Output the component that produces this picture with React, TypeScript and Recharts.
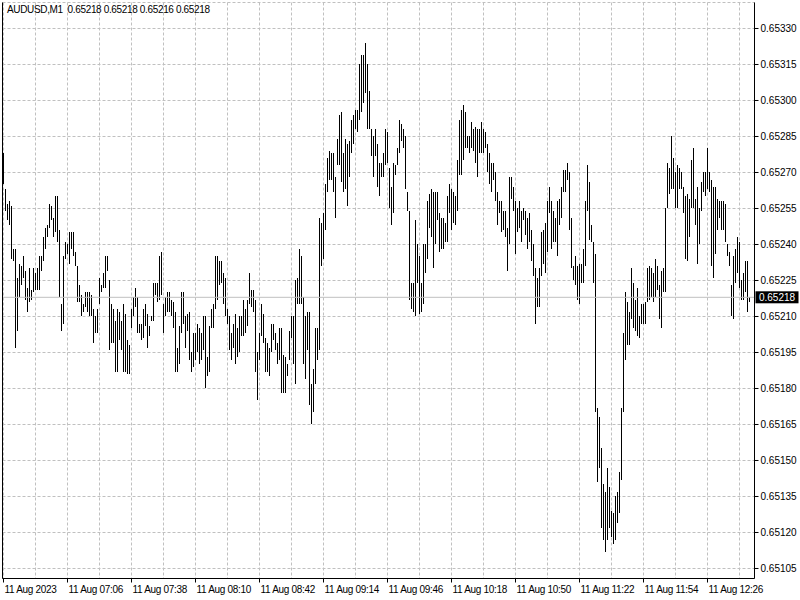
import { ComposedChart, Bar, XAxis, YAxis, CartesianGrid, ReferenceLine } from 'recharts';

const SYMBOL = 'AUDUSD,M1';
const LAST_OHLC = ['0.65218', '0.65218', '0.65216', '0.65218'];
const LAST_PRICE = 0.65218;

// prices are kept in points above 0.65000 (1 point = 0.00001)
const BASE = 0.65;
const POINT = 0.00001;
const START_MINUTE = 6 * 60 + 34; // first bar 06:34

const highPts = [
  278, 263, 257, 258, 256, 238, 238, 226, 232, 231,
  235, 229, 222, 230, 221, 230, 228, 230, 235, 235,
  243, 247, 248, 257, 256, 251, 260, 260, 246, 215,
  235, 241, 240, 245, 245, 245, 237, 231, 223, 219,
  215, 220, 220, 220, 219, 213, 210, 213, 226, 223,
  228, 235, 235, 225, 215, 213, 208, 213, 212, 208,
  215, 211, 200, 198, 213, 218, 222, 218, 207, 207,
  213, 215, 211, 206, 210, 224, 224, 224, 235, 237,
  215, 218, 220, 220, 217, 216, 212, 197, 206, 220,
  220, 210, 211, 212, 195, 203, 203, 207, 205, 203,
  210, 210, 193, 206, 213, 215, 235, 235, 233, 233,
  228, 226, 213, 210, 203, 207, 211, 205, 210, 210,
  217, 213, 217, 228, 221, 221, 217, 195, 203, 215,
  211, 201, 199, 197, 207, 207, 203, 199, 205, 205,
  194, 193, 190, 204, 210, 210, 225, 226, 238, 235,
  218, 210, 212, 212, 182, 188, 205, 205, 251, 249,
  253, 265, 276, 279, 278, 278, 268, 284, 294, 295,
  278, 284, 282, 283, 292, 294, 296, 296, 315, 319,
  319, 324, 315, 304, 288, 285, 288, 282, 274, 274,
  278, 288, 287, 272, 264, 274, 273, 280, 292, 290,
  288, 285, 262, 254, 224, 224, 250, 240, 235, 224,
  240, 240, 258, 261, 263, 262, 262, 262, 253, 251,
  251, 249, 260, 265, 263, 262, 260, 275, 292, 296,
  298, 295, 285, 285, 291, 288, 289, 288, 288, 291,
  288, 287, 282, 278, 274, 274, 270, 262, 258, 258,
  254, 254, 247, 268, 268, 264, 258, 255, 258, 254,
  255, 254, 251, 253, 246, 240, 230, 226, 230, 245,
  246, 249, 258, 264, 258, 254, 251, 258, 259, 264,
  271, 271, 274, 270, 251, 231, 235, 231, 232, 232,
  238, 258, 273, 266, 248, 241, 236, 172, 168, 155,
  140, 137, 147, 139, 129, 128, 135, 137, 145, 172,
  203, 220, 216, 212, 230, 224, 217, 222, 210, 215,
  215, 216, 230, 231, 230, 228, 234, 231, 223, 229,
  230, 255, 274, 272, 285, 276, 270, 273, 272, 270,
  264, 260, 261, 259, 275, 280, 259, 264, 255, 266,
  270, 270, 280, 270, 267, 264, 264, 259, 258, 258,
  258, 257, 240, 237, 223, 235, 238, 243, 241, 225,
  228, 233, 233, 218,
];

const lowPts = [
  265, 254, 250, 248, 234, 233, 197, 204, 218, 223,
  226, 217, 212, 216, 217, 220, 221, 221, 221, 229,
  233, 238, 243, 247, 250, 243, 245, 241, 218, 204,
  207, 234, 236, 232, 238, 235, 231, 216, 216, 210,
  212, 214, 212, 210, 210, 199, 203, 203, 215, 220,
  222, 222, 229, 196, 199, 199, 187, 187, 200, 196,
  187, 187, 186, 186, 205, 210, 214, 203, 203, 200,
  201, 206, 197, 202, 208, 208, 219, 216, 217, 219,
  203, 210, 212, 212, 210, 205, 187, 187, 190, 203,
  207, 197, 204, 192, 187, 189, 192, 195, 190, 192,
  196, 180, 185, 187, 205, 205, 213, 217, 223, 224,
  215, 210, 207, 196, 192, 197, 190, 193, 195, 202,
  202, 203, 206, 215, 214, 212, 187, 175, 192, 202,
  199, 187, 187, 185, 195, 200, 196, 190, 192, 178,
  178, 178, 185, 192, 201, 190, 182, 215, 215, 215,
  190, 184, 196, 173, 165, 170, 182, 192, 196, 231,
  234, 246, 262, 267, 267, 262, 251, 273, 273, 266,
  262, 263, 256, 268, 278, 282, 288, 287, 292, 295,
  299, 303, 288, 288, 277, 268, 277, 264, 260, 268,
  268, 273, 274, 255, 248, 253, 269, 273, 278, 283,
  280, 263, 254, 217, 213, 212, 210, 224, 211, 212,
  215, 228, 234, 247, 243, 230, 240, 250, 237, 238,
  238, 241, 241, 253, 246, 249, 248, 254, 269, 269,
  275, 280, 280, 278, 280, 279, 274, 268, 278, 278,
  278, 280, 270, 265, 262, 267, 258, 248, 253, 245,
  246, 243, 229, 240, 259, 254, 236, 245, 247, 241,
  250, 244, 238, 241, 233, 227, 207, 214, 214, 227,
  232, 228, 237, 253, 238, 241, 241, 235, 248, 251,
  262, 262, 267, 246, 230, 225, 223, 217, 215, 224,
  224, 231, 254, 242, 241, 224, 170, 141, 147, 122,
  117, 112, 117, 122, 118, 115, 117, 124, 128, 142,
  170, 192, 198, 198, 209, 205, 204, 202, 201, 207,
  207, 207, 216, 217, 218, 216, 218, 221, 209, 205,
  220, 220, 255, 261, 263, 263, 255, 255, 263, 263,
  253, 234, 233, 243, 255, 255, 248, 232, 240, 254,
  262, 260, 263, 262, 231, 226, 236, 246, 251, 246,
  246, 241, 235, 231, 210, 209, 224, 228, 222, 217,
  217, 220, 212, 216,
];

const priceTicks = [
  0.65105, 0.6512, 0.65135, 0.6515, 0.65165, 0.6518, 0.65195, 0.6521,
  0.65225, 0.6524, 0.65255, 0.6527, 0.65285, 0.653, 0.65315, 0.6533,
];

// bar index of each labelled time, and the label shown there
const timeTicks = [0, 32, 64, 96, 128, 160, 192, 224, 256, 288, 320, 352];
const timeTickLabels = [
  '11 Aug 2023', '11 Aug 07:06', '11 Aug 07:38', '11 Aug 08:10', '11 Aug 08:42', '11 Aug 09:14',
  '11 Aug 09:46', '11 Aug 10:18', '11 Aug 10:50', '11 Aug 11:22', '11 Aug 11:54', '11 Aug 12:26',
];
const gridTicks = [0, 16, 32, 48, 64, 80, 96, 112, 128, 144, 160, 176, 192, 208, 224, 240, 256, 272, 288, 304, 320, 336, 352, 368];

const FONT = '"Liberation Sans", Arial, sans-serif';

const pad = (n: number) => String(n).padStart(2, '0');
const fmtTime = (m: number) => `${pad(Math.floor(m / 60))}:${pad(m % 60)}`;

const data = highPts.map((h, i) => ({
  i,
  time: fmtTime(START_MINUTE + i),
  range: [BASE + lowPts[i] * POINT, BASE + h * POINT],
}));

function TimeTick(props: any) {
  const { x, y, payload } = props;
  const idx = timeTicks.indexOf(payload.value);
  if (idx < 0) return null;
  return (
    <g>
      <line x1={x} y1={y} x2={x} y2={y + 4} stroke="#000" />
      <text
        x={x + 1}
        y={y + 14}
        fill="#000"
        fontSize={10}
        fontFamily={FONT}
        letterSpacing={-0.3}
        textAnchor="start"
      >
        {timeTickLabels[idx]}
      </text>
    </g>
  );
}

function OhlcBar(props: any) {
  const { x, y, width, height } = props;
  if (height == null || isNaN(y)) return null;
  return <rect x={x} y={y} width={width} height={Math.max(height, 1)} fill="#000" shapeRendering="crispEdges" />;
}

function PriceTag(props: any) {
  const vb = props.viewBox || {};
  const left = vb.x + vb.width + 1;
  return (
    <g>
      <rect x={left} y={vb.y - 6} width={43} height={12} fill="#000" />
      <text x={left + 21.5} y={vb.y + 3.5} fill="#fff" fontSize={10} fontFamily={FONT} textAnchor="middle">
        {LAST_PRICE.toFixed(5)}
      </text>
    </g>
  );
}

export default function App() {
  return (
    <div style={{ position: 'absolute', left: 0, top: 0, width: 800, height: 600, background: '#fff' }}>
      <ComposedChart
        width={800}
        height={600}
        data={data}
        margin={{ top: 2.5, right: 0, bottom: 0, left: 0.5 }}
      >
        <CartesianGrid yAxisId="p" stroke="#c0c0c0" strokeDasharray="3 2" />
        <XAxis
          dataKey="i"
          type="number"
          domain={[-0.5, 375.5]}
          allowDataOverflow
          ticks={gridTicks}
          interval={0}
          height={21.5}
          tickLine={false}
          tickSize={0}
          tickMargin={0}
          axisLine={{ stroke: '#000' }}
          tick={<TimeTick />}
        />
        <YAxis
          yAxisId="frame"
          orientation="left"
          width={2}
          tick={false}
          tickLine={false}
          axisLine={{ stroke: '#000' }}
        />
        <YAxis
          yAxisId="p"
          orientation="right"
          type="number"
          domain={[0.651008333, 0.653408333]}
          allowDataOverflow
          ticks={priceTicks}
          interval={0}
          width={45.5}
          tickSize={4}
          tickMargin={2}
          tickLine={{ stroke: '#000' }}
          axisLine={{ stroke: '#000' }}
          tick={{ fill: '#000', fontSize: 10, fontFamily: FONT }}
          tickFormatter={(v: number) => v.toFixed(5)}
        />
        <ReferenceLine yAxisId="p" y={LAST_PRICE} stroke="#c0c0c0" label={<PriceTag />} />
        <Bar
          yAxisId="p"
          dataKey="range"
          barSize={1}
          fill="#000"
          shape={<OhlcBar />}
          isAnimationActive={false}
        />
      </ComposedChart>
      <div
        style={{
          position: 'absolute',
          left: 7,
          top: 4,
          fontFamily: FONT,
          fontSize: 10,
          letterSpacing: '-0.35px',
          color: '#000',
          whiteSpace: 'pre',
          lineHeight: '12px',
        }}
      >
        {`${SYMBOL}  ${LAST_OHLC.join(' ')}`}
      </div>
    </div>
  );
}
